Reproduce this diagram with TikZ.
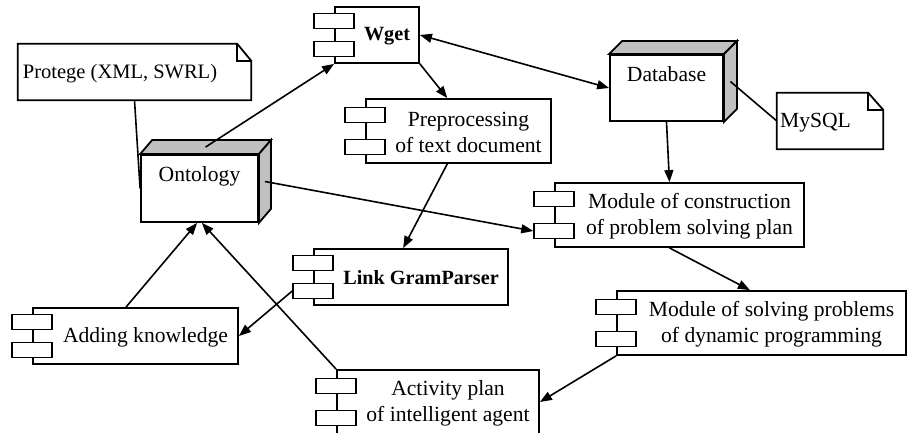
\documentclass[tikz,border=0pt]{standalone}
\usepackage{fontspec}
\setmainfont{Liberation Serif}
\usetikzlibrary{arrows.meta,calc}
\definecolor{facegray}{HTML}{C0C0C0}
\tikzset{
  compbox/.style={draw, fill=white, line width=1.8pt, inner sep=0pt},
  portbox/.style={draw, fill=white, line width=1.7pt, inner sep=0pt, minimum width=40pt, minimum height=15pt},
  txt/.style={align=center, inner sep=0pt, font=\fontsize{21.6}{26}\selectfont},
  ntxt/.style={align=center, inner sep=0pt, font=\fontsize{20.5}{26}\selectfont},
  btxt/.style={align=center, inner sep=0pt, font=\fontsize{20.2}{26}\selectfont\bfseries},
  conn/.style={line width=1.6pt},
  arr/.style={conn, -{Triangle[length=12pt,width=9pt]}},
  darr/.style={conn, {Triangle[length=12pt,width=9pt]}-{Triangle[length=12pt,width=9pt]}},
  face/.style={draw, fill=facegray, line width=1.8pt, line join=miter},
}
% name, cx, cy, w, h, text, text style
\newcommand\compnode[7]{%
  \node[compbox, minimum width=#4pt, minimum height=#5pt] (#1) at (#2,#3) {};
  \node[portbox] (#1-a) at ($(#1.west)+(0,-#5/4)$) {};
  \node[portbox] (#1-b) at ($(#1.west)+(0,#5/4)$) {};
  \node[#7] (#1-t) at ($(#1.center)+(10,1)$) {#6};
}
% name, cx, cy, w, h, dx, dy(up)
\newcommand\cubenode[7]{%
  \node[compbox, minimum width=#4pt, minimum height=#5pt] (#1) at (#2,#3) {};
  \draw[face] (#1.north west) -- ++(#6,-#7) -- ($(#1.north east)+(#6,-#7)$) -- (#1.north east) -- cycle;
  \draw[face] (#1.north east) -- ++(#6,-#7) -- ($(#1.south east)+(#6,-#7)$) -- (#1.south east) -- cycle;
  \coordinate (#1-top) at ($(#1.north)+(#6/2,-#7/2)$);
  \coordinate (#1-side) at ($(#1.east)+(#6/2,-#7/2)$);
}
% name, cx, cy, w, h, fold w, fold h
\newcommand\notenode[7]{%
  \node[inner sep=0pt, minimum width=#4pt, minimum height=#5pt] (#1) at (#2,#3) {};
  \draw[line width=1.8pt, fill=white, line join=miter] (#1.south west) -- (#1.north west) -- ($(#1.north east)+(-#6,0)$) -- ($(#1.north east)+(0,#7)$) -- (#1.south east) -- cycle;
  \draw[line width=1.8pt, line join=miter] ($(#1.north east)+(-#6,0)$) -- ($(#1.north east)+(-#6,#7)$) -- ($(#1.north east)+(0,#7)$);
}
\begin{document}
\begin{tikzpicture}[x=1pt,y=-1pt]
\useasboundingbox (0,0) rectangle (908,433);
\clip (0,0) rectangle (908,433);

% notes
\notenode{protege}{134.5}{72}{233}{56}{14}{17}
\node[ntxt] (protege-t) at (120,74) {Protege (XML, SWRL)};
\notenode{mysql}{830}{121}{106}{56}{15}{17}
\node[txt] (mysql-t) at (815.5,123) {MySQL};

% 3D nodes
\cubenode{onto}{199.5}{188.5}{117}{67}{12}{14}
\node[txt] (onto-t) at (199.5,176) {Ontology};
\cubenode{db}{666.5}{88}{113}{66}{13}{13}
\node[txt] (db-t) at (666.5,74) {Database};

% components
\compnode{wget}{377}{35}{84}{56}{Wget}{btxt}
\compnode{pre}{458.5}{131}{185}{64}{Preprocessing\\of text document}{txt}
\compnode{cons}{679.5}{215}{249}{64}{Module of construction\\of problem solving plan}{txt}
\compnode{link}{411}{277}{194}{56}{Link GramParser}{btxt}
\compnode{add}{135.5}{336}{205}{56}{Adding knowledge}{txt}
\compnode{solv}{761.5}{323}{289}{64}{Module of solving problems\\of dynamic programming}{txt}
\compnode{act}{438}{402}{202}{64}{Activity plan\\of intelligent agent}{txt}

% connectors
\draw[conn] (protege.south) -- (onto.west);
\draw[arr] (onto-top) -- (wget.south west);
\draw[darr] (wget.east) -- (db.west);
\draw[arr] (wget.south east) -- ($(pre.north west)!0.44!(pre.north east)$);
\draw[arr] ($(pre.south west)!0.44!(pre.south east)$) -- ($(link.north west)!0.46!(link.north east)$);
\draw[arr] (db.south) -- ($(cons.north west)!0.46!(cons.north east)$);
\draw[conn] (db-side) -- (mysql.west);
\draw[arr] (onto-side) -- (cons-b.west);
\draw[arr] ($(cons.south west)!0.46!(cons.south east)$) -- ($(solv.north west)!0.46!(solv.north east)$);
\draw[arr] (solv.south west) -- (act.east);
\draw[arr] (link-b.west) -- (add.east);
\draw[arr] ($(add.north west)!0.454!(add.north east)$) -- ($(onto.south west)!0.48!(onto.south east)$);
\draw[arr] (act.north west) -- ($(onto.south west)!0.52!(onto.south east)$);
\end{tikzpicture}
\end{document}
